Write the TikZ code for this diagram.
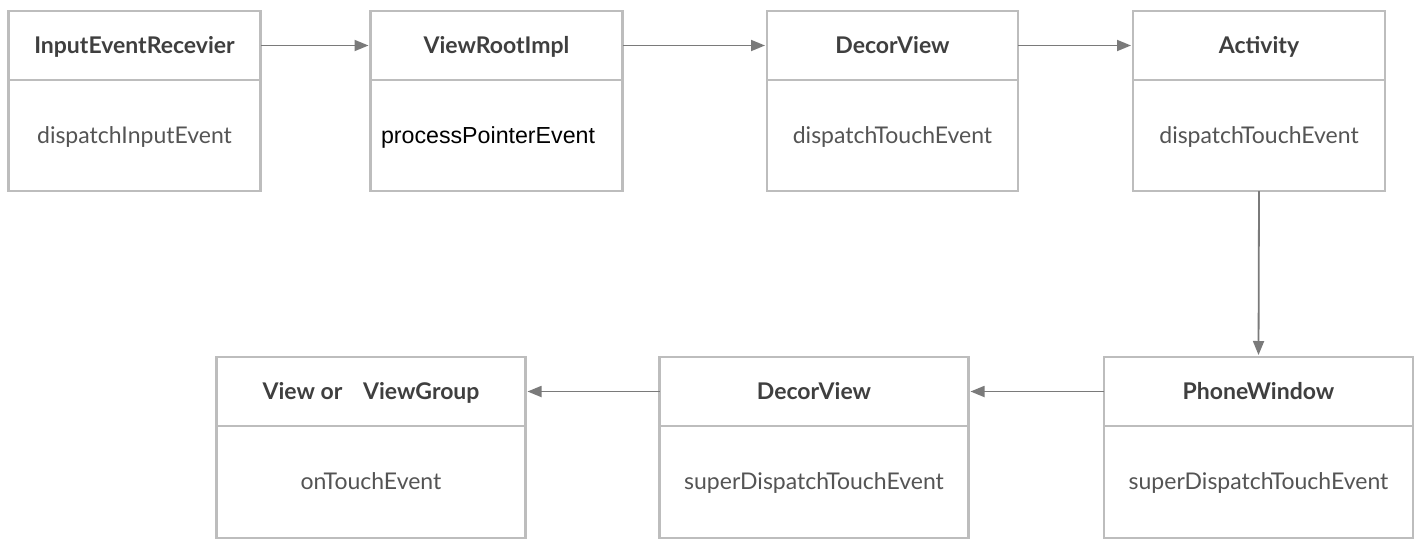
\documentclass[tikz,border=0pt]{standalone}
\usepackage{fontspec}
\setmainfont{Lato}
\newfontfamily\helv{Liberation Sans}
\usetikzlibrary{arrows.meta}
\definecolor{boxline}{HTML}{BDBDBD}
\definecolor{arrowc}{HTML}{7A7A7A}
\definecolor{titlec}{HTML}{3F3F3F}
\definecolor{bodyc}{HTML}{545454}
\tikzset{
  hdr/.style={draw=boxline, line width=2.6pt, minimum height=69pt, inner sep=0pt, outer sep=0pt,
    text height=18pt, text depth=3pt,
    font=\fontsize{23}{27}\selectfont\bfseries, text=titlec},
  bdy/.style={draw=boxline, line width=2.6pt, inner sep=0pt, outer sep=0pt,
    text height=18pt, text depth=3pt,
    font=\fontsize{23}{27}\selectfont, text=bodyc},
  flow/.style={draw=arrowc, line width=1.8pt, -{Triangle[length=14pt,width=11pt]}, shorten >=2pt}
}
\begin{document}
\begin{tikzpicture}[x=1pt,y=-1pt]
\useasboundingbox (0,0) rectangle (1421,549);
\fill[white] (0,0) rectangle (1421,549);
% top row
\node[hdr, minimum width=252pt, anchor=north west] (t1) at (8.5,11) {InputEventRecevier};
\node[bdy, minimum width=252pt, minimum height=111pt, anchor=north] (b1) at (t1.south) {dispatchInputEvent};
\node[hdr, minimum width=252pt, anchor=north west] (t2) at (370.5,11) {ViewRootImpl};
\node[bdy, minimum width=252pt, minimum height=111pt, anchor=north, text width=231pt, align=left, text=black, font=\fontsize{23.2}{27}\selectfont\helv] (b2) at (t2.south) {processPointerEvent};
\node[hdr, minimum width=251pt, anchor=north west] (t3) at (767,11) {DecorView};
\node[bdy, minimum width=251pt, minimum height=111pt, anchor=north] (b3) at (t3.south) {dispatchTouchEvent};
\node[hdr, minimum width=252pt, anchor=north west] (t4) at (1133,11) {Activity};
\node[bdy, minimum width=252pt, minimum height=111pt, anchor=north] (b4) at (t4.south) {dispatchTouchEvent};
% bottom row
\node[hdr, minimum width=309pt, anchor=north west] (t7) at (1104,357) {PhoneWindow};
\node[bdy, minimum width=309pt, minimum height=112pt, anchor=north] (b7) at (t7.south) {superDispatchTouchEvent};
\node[hdr, minimum width=309pt, anchor=north west] (t6) at (659.5,357) {DecorView};
\node[bdy, minimum width=309pt, minimum height=112pt, anchor=north] (b6) at (t6.south) {superDispatchTouchEvent};
\node[hdr, minimum width=309pt, anchor=north west] (t5) at (216.5,357) {View or\hspace{0.9em}ViewGroup};
\node[bdy, minimum width=309pt, minimum height=112pt, anchor=north] (b5) at (t5.south) {onTouchEvent};
% connectors
\draw[flow] (t1.east) -- (t2.west);
\draw[flow] (t2.east) -- (t3.west);
\draw[flow] (t3.east) -- (t4.west);
\draw[flow] (b4.south) -- (t7.north);
\draw[flow] (t7.west) -- (t6.east);
\draw[flow] (t6.west) -- (t5.east);
\end{tikzpicture}
\end{document}
